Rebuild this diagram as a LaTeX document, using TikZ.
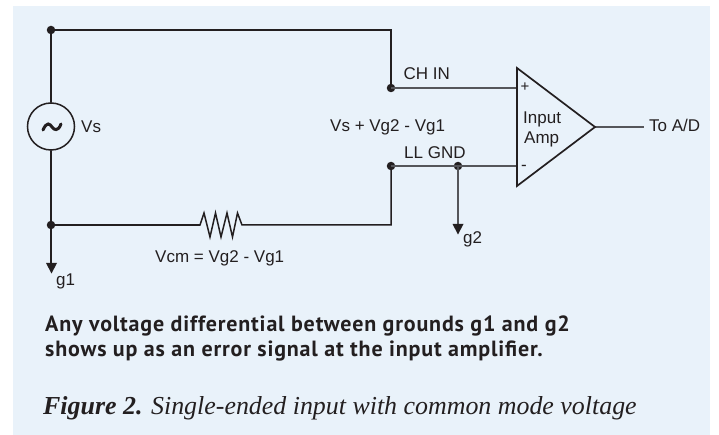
\documentclass[tikz,border=0pt]{standalone}
\usepackage{fontspec}
\setmainfont{Liberation Sans}
\newfontfamily\capfont[LetterSpace=3.8]{PT Sans}
\newfontfamily\figfont{Liberation Serif}
\definecolor{panel}{HTML}{E9F2FA}
\definecolor{ink}{HTML}{231F20}
\definecolor{thin}{HTML}{55565A}
\tikzset{
  wire/.style={draw=ink,line width=1.5pt,line cap=round,line join=miter},
  thinwire/.style={draw=thin,line width=1.2pt},
  dot/.style={circle,fill=ink,inner sep=0pt,minimum size=8.5pt},
  lbl/.style={inner sep=0pt,text=ink,font=\fontsize{17}{17}\selectfont,anchor=base west},
  gndtip/.style={fill=ink,draw=none},
  caplbl/.style={inner sep=0pt,anchor=base west,text=ink,font=\capfont\bfseries\fontsize{22}{24}\selectfont},
}
\begin{document}
\begin{tikzpicture}[x=1pt,y=-1pt]
\useasboundingbox (0,0) rectangle (719,435);
\fill[white] (0,0) rectangle (719,435);
\fill[panel] (13,6) rectangle (710,435);
% junctions
\node[dot] (tl) at (51,30) {};
\node[dot] (bl) at (51,225) {};
\node[dot] (chin) at (391,88) {};
\node[dot] (llgnd) at (391,166) {};
\node[dot] (jn) at (458,166) {};
\coordinate (tr) at (391,30);
\coordinate (br) at (391,225);
\node[circle,draw=ink,line width=1.5pt,minimum size=47pt,inner sep=0pt] (src) at (51,126.5) {};
\coordinate (rl) at (200,225);
\coordinate (rr) at (242,225);
\coordinate (g1) at (51,264);
\coordinate (g2) at (458,225);
\coordinate (ampp) at (517,88);
\coordinate (ampm) at (517,166);
\coordinate (ampo) at (595,127);
\coordinate (out) at (644,127);
% wires
\draw[wire] (src.north) -- (tl.center) -- (tr) -- (chin.center);
\draw[wire] (src.south) -- (bl.center) -- (rl);
\draw[wire] (rl) -- (204,213) -- (210,237) -- (215.5,213) -- (221,237) -- (227,213) -- (232.5,237) -- (237.5,213) -- (rr) -- (br) -- (llgnd.center);
\draw[wire] (bl.center) -- (g1);
\fill[gndtip] (46,263) -- (57,263) -- (51.5,273.5) -- cycle;
\draw[thinwire] (chin.center) -- (ampp);
\draw[thinwire] (llgnd.center) -- (ampm);
\draw[thinwire] (jn.center) -- (g2);
\fill[gndtip] (452.5,224) -- (463.5,224) -- (458,234.5) -- cycle;
\draw[thinwire] (ampo) -- (out);
\draw[draw=ink,line width=1.7pt,line join=miter] (517,68) -- (595,127) -- (517,186) -- cycle;
% tilde
\draw[draw=ink,line width=3pt,line cap=round] (43,130) .. controls (47,121) and (50,124) .. (52,127) .. controls (54,130) and (58,132) .. (61,124);
% labels
\node[lbl] (vs) at (81,133) {Vs};
\node[lbl] (vcm) at (155,263) {Vcm = Vg2 - Vg1};
\node[lbl] (g1t) at (56,285) {g1};
\node[lbl] (g2t) at (463,244) {g2};
\node[lbl] (chint) at (403.5,80) {CH IN};
\node[lbl] (llt) at (404,159) {LL GND};
\node[lbl] (vsum) at (330,132) {Vs + Vg2 - Vg1};
\node[lbl] (in) at (523,124) {Input};
\node[lbl] (am) at (524,144) {Amp};
\node[lbl,font=\fontsize{15}{15}\selectfont] (pl) at (520.5,92) {+};
\node[lbl] (mi) at (521,171) {-};
\node[lbl] (toad) at (649,132) {To A/D};
\node[caplbl] (c1) at (45,331) {Any voltage differential between grounds g1 and g2};
\node[caplbl] (c2) at (45,356) {shows up as an error signal at the input amplifier.};
\node[inner sep=0pt,anchor=base west,text=ink,font=\figfont\itshape\fontsize{25.9}{26}\selectfont] (f) at (43,414) {{\bfseries Figure 2.} Single-ended input with common mode voltage};
\end{tikzpicture}
\end{document}
